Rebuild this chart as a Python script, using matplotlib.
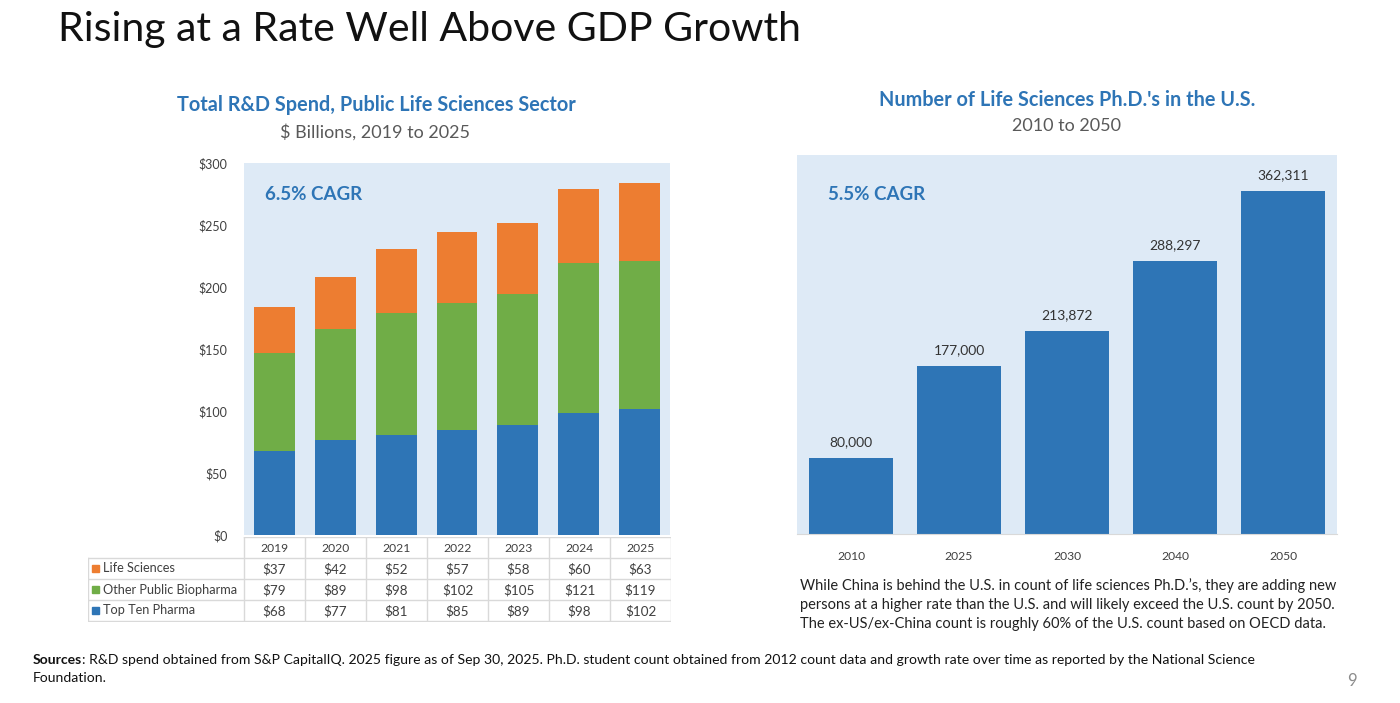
import matplotlib
matplotlib.use("Agg")
import matplotlib.pyplot as plt
from matplotlib.patches import Rectangle

plt.rcParams['font.family'] = ['Lato', 'DejaVu Sans']
plt.rcParams['text.usetex'] = False

# ---------------- data ----------------
years_left = ["2019", "2020", "2021", "2022", "2023", "2024", "2025"]
top_ten = [68, 77, 81, 85, 89, 98, 102]
other_bio = [79, 89, 98, 102, 105, 121, 119]
life_sci = [37, 42, 52, 57, 58, 60, 63]
series_names = ["Life Sciences", "Other Public Biopharma", "Top Ten Pharma"]
left_yticks = [0, 50, 100, 150, 200, 250, 300]

years_right = ["2010", "2025", "2030", "2040", "2050"]
phd_counts = [80000, 177000, 213872, 288297, 362311]

BLUE = "#2E75B6"
GREEN = "#70AD47"
ORANGE = "#ED7D31"
PANEL = "#DEEAF6"
GRID = "#D9D9D9"
TXT = "#404040"

W, H = 1400, 703
fig = plt.figure(figsize=(W / 100, H / 100), dpi=100)

def ax_px(x0, y0, x1, y1):
    return fig.add_axes([x0 / W, 1 - y1 / H, (x1 - x0) / W, (y1 - y0) / H])

def ftext(x, y, s, **kw):
    return fig.text(x / W, 1 - y / H, s, **kw)

# ---------------- title ----------------
ftext(58, 30, "Rising at a Rate Well Above GDP Growth", fontsize=29.5, weight='normal',
      color="#111111", va='center', ha='left')

# ---------------- left chart ----------------
axL = ax_px(244, 163, 670, 535)
axL.set_facecolor(PANEL)
x = range(len(years_left))
bw = 0.67
axL.bar(x, top_ten, width=bw, color=BLUE, label=series_names[2])
bottom2 = top_ten
axL.bar(x, other_bio, width=bw, bottom=bottom2, color=GREEN, label=series_names[1])
bottom3 = [a + b for a, b in zip(top_ten, other_bio)]
axL.bar(x, life_sci, width=bw, bottom=bottom3, color=ORANGE, label=series_names[0])
axL.set_xlim(-0.5, len(years_left) - 0.5)
axL.set_ylim(0, 300)
axL.set_yticks(left_yticks)
axL.set_yticklabels(["\\$%d" % v for v in left_yticks], fontsize=9, color=TXT)
axL.tick_params(axis='y', length=0, pad=12)
axL.set_xticks([])
for s in axL.spines.values():
    s.set_visible(False)
axL.text(0.05, 0.915, "6.5% CAGR", transform=axL.transAxes, fontsize=13.5,
         weight='bold', color=BLUE, va='center', ha='left')

ftext(376, 105, "Total R&D Spend, Public Life Sciences Sector", fontsize=14.3,
      weight='bold', color=BLUE, ha='center', va='center')
ftext(375, 132, "\\$ Billions, 2019 to 2025", fontsize=13, color="#595959",
      ha='center', va='center')

# table under left chart
axT = ax_px(88, 537, 671, 622)
axT.set_xlim(88, 671)
axT.set_ylim(622, 537)
axT.axis('off')
col_edges = [88, 244] + [244 + 61 * (i + 1) for i in range(len(years_left))]
col_edges[-1] = 671
row_edges = [537, 558, 579, 600, 621]
lc = dict(color=GRID, lw=1.0)
axT.plot([244, 671], [537, 537], **lc)
for r in row_edges[1:]:
    axT.plot([88, 671], [r, r], **lc)
for i, c in enumerate(col_edges):
    if i == 0:
        axT.plot([c, c], [558, 621], **lc)
    else:
        axT.plot([c, c], [537, 621], **lc)
for i, yr in enumerate(years_left):
    cx = (col_edges[i + 1] + col_edges[i + 2]) / 2
    axT.text(cx, 548, yr, fontsize=8.7, color=TXT, ha='center', va='center')
rows = [(series_names[0], ORANGE, life_sci),
        (series_names[1], GREEN, other_bio),
        (series_names[2], BLUE, top_ten)]
for ri, (name, col, vals) in enumerate(rows):
    cy = (row_edges[ri + 1] + row_edges[ri + 2]) / 2
    axT.add_patch(Rectangle((92, cy - 3.5), 7, 7, color=col))
    axT.text(103, cy, name, fontsize=9.2, color=TXT, ha='left', va='center')
    for i, v in enumerate(vals):
        cx = (col_edges[i + 1] + col_edges[i + 2]) / 2
        axT.text(cx, cy + 0.5, "\\$%d" % v, fontsize=9.7, color=TXT, ha='center', va='center')

# ---------------- right chart ----------------
axR = ax_px(797, 155, 1337, 534)
axR.set_facecolor(PANEL)
xr = range(len(years_right))
bars = axR.bar(xr, phd_counts, width=0.78, color=BLUE)
axR.set_xlim(-0.5, len(years_right) - 0.5)
axR.set_ylim(0, 400000)
axR.set_yticks([])
axR.set_xticks(list(xr))
axR.set_xticklabels(years_right, fontsize=8.7, color=TXT)
axR.tick_params(axis='x', length=0, pad=12)
for k, s in axR.spines.items():
    s.set_visible(k == 'bottom')
axR.spines['bottom'].set_color(GRID)
for xi, v in zip(xr, phd_counts):
    axR.annotate(f"{v:,}", (xi, v), xytext=(0, 7), textcoords='offset points',
                 ha='center', va='bottom', fontsize=10, color="#333333")
axR.text(0.057, 0.895, "5.5% CAGR", transform=axR.transAxes, fontsize=13.5,
         weight='bold', color=BLUE, va='center', ha='left')

ftext(1067, 100, "Number of Life Sciences Ph.D.'s in the U.S.", fontsize=14.3,
      weight='bold', color=BLUE, ha='center', va='center')
ftext(1067, 126, "2010 to 2050", fontsize=13, color="#595959", ha='center', va='center')

body = ["While China is behind the U.S. in count of life sciences Ph.D.\u2019s, they are adding new",
        "persons at a higher rate than the U.S. and will likely exceed the U.S. count by 2050.",
        "The ex-US/ex-China count is roughly 60% of the U.S. count based on OECD data."]
for i, line in enumerate(body):
    ftext(800, 586 + 19 * i, line, fontsize=10.5, color="#222222", ha='left', va='center')

# ---------------- sources ----------------
t1 = ftext(33, 660, "Sources", fontsize=10.1, weight='bold', color="#111111", ha='left', va='center')
fig.canvas.draw()
bb = t1.get_window_extent(renderer=fig.canvas.get_renderer())
x_after = bb.x1
fig.text(x_after / W, 1 - 660 / H,
         ": R&D spend obtained from S&P CapitalIQ. 2025 figure as of Sep 30, 2025. Ph.D. student count obtained from 2012 count data and growth rate over time as reported by the National Science",
         fontsize=10.1, color="#111111", ha='left', va='center')
ftext(33, 678, "Foundation.", fontsize=10.1, color="#111111", ha='left', va='center')
ftext(1352, 681, "9", fontsize=12, color="#8C8C8C", ha='center', va='center')

fig.savefig("out.png", dpi=100)
